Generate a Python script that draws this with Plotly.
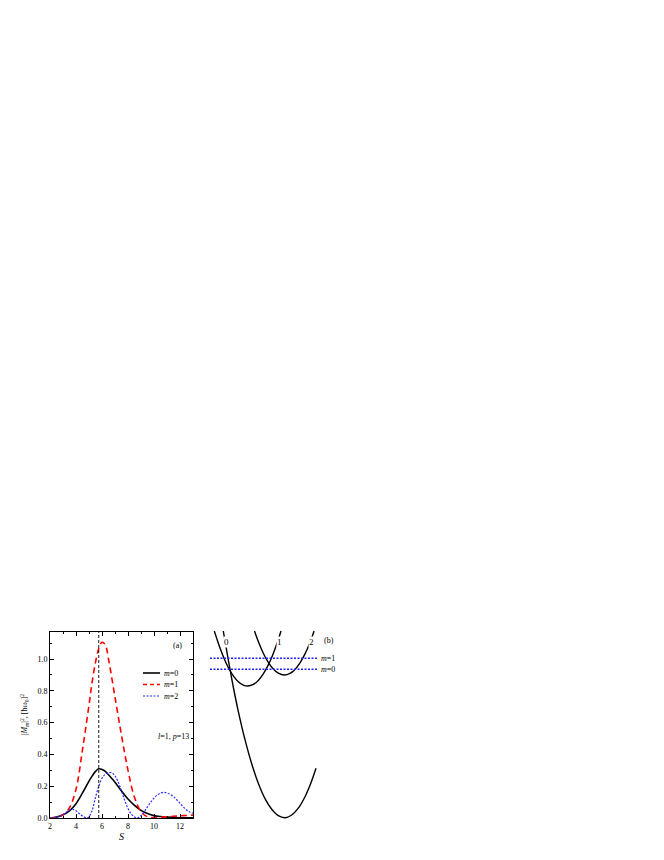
import plotly.graph_objects as go

# ---------------- Panel (a) data ----------------
S_m01 = [2.0, 2.5, 3.0, 3.5, 4.0, 4.5, 5.0, 5.25, 5.5, 5.75, 6.0, 6.25, 6.5,
         7.0, 7.5, 8.0, 8.5, 9.0, 9.5, 10.0, 10.5, 11.0, 11.5, 12.0, 12.5, 13.0]
M_m0 = [0.0, 0.006, 0.02, 0.045, 0.09, 0.158, 0.232, 0.265, 0.293, 0.31, 0.305,
        0.293, 0.272, 0.225, 0.17, 0.12, 0.08, 0.048, 0.028, 0.015, 0.009,
        0.006, 0.004, 0.002, 0.001, 0.001]
M_m1 = [0.0, 0.005, 0.02, 0.065, 0.18, 0.43, 0.71, 0.86, 0.98, 1.065, 1.105,
        1.09, 1.0, 0.76, 0.52, 0.3, 0.13, 0.04, 0.008, 0.003, 0.005, 0.008,
        0.011, 0.014, 0.016, 0.018]
S_m2 = [2.0, 2.5, 3.0, 3.25, 3.5, 3.75, 4.0, 4.25, 4.5, 4.85, 5.0, 5.25, 5.5,
        5.75, 6.0, 6.25, 6.5, 6.75, 7.0, 7.25, 7.5, 7.75, 8.0, 8.25, 8.5, 8.7,
        9.0, 9.25, 9.5, 9.75, 10.0, 10.25, 10.5, 10.75, 11.0, 11.25, 11.5,
        11.75, 12.0, 12.25, 12.5, 12.75, 13.0]
M_m2 = [0.0, 0.004, 0.02, 0.036, 0.05, 0.055, 0.045, 0.028, 0.012, 0.0, 0.008,
        0.05, 0.13, 0.2, 0.25, 0.275, 0.284, 0.285, 0.265, 0.225, 0.17, 0.11,
        0.06, 0.025, 0.006, 0.0, 0.015, 0.04, 0.07, 0.1, 0.125, 0.145, 0.157,
        0.161, 0.158, 0.148, 0.134, 0.115, 0.092, 0.07, 0.05, 0.038, 0.03]
peak_S = 5.75

x_ticks = [2, 4, 6, 8, 10, 12]
y_ticks = [0.0, 0.2, 0.4, 0.6, 0.8, 1.0]
series_names = ["<i>m</i>=0", "<i>m</i>=1", "<i>m</i>=2"]

# ---------------- Panel (b) data ----------------
A_q = [18.3, 20.0, 22.7, 25.0, 28.3, 33.3, 40.0, 46.7, 53.3, 60.0, 66.7, 73.3,
       80.0, 86.7, 93.3, 100.0, 106.0, 111.0]
A_E = [194, 184, 168.5, 155.7, 138, 113.7, 85.3, 61.2, 41.7, 26.3, 15.7, 9.3,
       7.3, 10, 16.8, 28.3, 42.3, 56.7]
B_q = [9.3, 11.7, 15.0, 19.3, 23.3, 28.3, 33.3, 38.3, 42.7, 48.3, 53.3, 58.3,
       63.3, 68.3, 73.3, 76.0]
B_E = [194, 186.6, 176.9, 166, 157.5, 149.2, 143.3, 139.9, 139, 140.6, 144.6,
       151.1, 160.1, 171.6, 185.6, 194]
C_q = [49.5, 53.3, 58.3, 63.3, 68.3, 73.3, 79.3, 85.0, 90.0, 95.0, 100.0, 105.0,
       109.1]
C_E = [194, 183.5, 171.8, 162.7, 156, 151.8, 150, 151.6, 155.6, 162.1, 171.1,
       182.6, 194]
level_q = [5.0, 113.3]
E_m1 = 166.7
E_m0 = 155.7
curve_labels = ["0", "1", "2"]
curve_label_q = [21.0, 74.0, 106.5]
curve_label_E = 183.0

FONT = "Liberation Serif"
W, H = 664, 860

fig = go.Figure()

# Panel (a) curves
fig.add_trace(go.Scatter(x=S_m01, y=M_m0, mode="lines", name=series_names[0],
                         line=dict(color="black", width=1.6, shape="spline"),
                         xaxis="x", yaxis="y"))
fig.add_trace(go.Scatter(x=S_m01, y=M_m1, mode="lines", name=series_names[1],
                         line=dict(color="#ff0000", width=1.6, shape="spline",
                                   dash="6px,4px"),
                         xaxis="x", yaxis="y"))
fig.add_trace(go.Scatter(x=S_m2, y=M_m2, mode="lines", name=series_names[2],
                         line=dict(color="#2b2bff", width=1.2, shape="spline",
                                   dash="2px,1.5px"),
                         xaxis="x", yaxis="y"))
fig.add_trace(go.Scatter(x=[peak_S, peak_S], y=[0, 1.17], mode="lines",
                         line=dict(color="black", width=0.9, dash="3px,2px"),
                         xaxis="x", yaxis="y", showlegend=False))

# Panel (b) curves
for q, E in [(A_q, A_E), (B_q, B_E), (C_q, C_E)]:
    fig.add_trace(go.Scatter(x=q, y=E, mode="lines",
                             line=dict(color="black", width=1.4, shape="spline"),
                             xaxis="x2", yaxis="y2", showlegend=False))
for lvl in [E_m1, E_m0]:
    fig.add_trace(go.Scatter(x=level_q, y=[lvl, lvl], mode="lines",
                             line=dict(color="#1f1fff", width=1.5, dash="2px,1.5px"),
                             xaxis="x2", yaxis="y2", showlegend=False))

axis_common = dict(showline=True, linecolor="black", linewidth=0.8,
                   mirror="allticks", ticks="inside", ticklen=4, tickwidth=0.8,
                   tickcolor="black", showgrid=False, zeroline=False,
                   tickfont=dict(family=FONT, size=8, color="black"))

fig.update_layout(
    width=W, height=H,
    margin=dict(l=0, r=0, t=0, b=0),
    paper_bgcolor="white", plot_bgcolor="white",
    showlegend=False,
    font=dict(family=FONT, size=8, color="black"),
    xaxis=dict(domain=[50 / W, 193 / W], range=[2, 13], tickvals=x_ticks,
               anchor="y", automargin=False,
               minor=dict(ticks="inside", ticklen=2, dtick=1, tick0=2,
                          tickcolor="black", showgrid=False),
               **axis_common),
    yaxis=dict(domain=[(H - 818) / H, (H - 632) / H], range=[0, 1.17],
               tickvals=y_ticks, tickformat=".1f", anchor="x", automargin=False,
               minor=dict(ticks="inside", ticklen=2, dtick=0.1, tick0=0,
                          tickcolor="black", showgrid=False),
               **axis_common),
    xaxis2=dict(domain=[205 / W, 335 / W], range=[0, 130], visible=False,
                anchor="y2"),
    yaxis2=dict(domain=[35 / H, 235 / H], range=[0, 200], visible=False,
                anchor="x2"),
)


def px(x, y, text, size=8, angle=0, xanchor="center", **kw):
    return dict(x=x / W, y=(H - y) / H, xref="paper", yref="paper", text=text,
                textangle=angle, showarrow=False, xanchor=xanchor,
                yanchor="middle", font=dict(family=FONT, size=size, color="black"),
                **kw)


ann = []
ann.append(px(24, 715, "|<i>M</i><sub><i>m</i></sub>|<sup>2</sup>, [ħω<sub>0</sub>]<sup>2</sup>",
              size=8, angle=-90))
ann.append(px(121.5, 836, "<i>S</i>", size=10))
ann.append(px(177, 645, "(a)", size=8))
ann.append(px(173, 736, "<i>l</i>=1, <i>p</i>=13", size=8))
# manual legend
leg_y = [673, 684.5, 696]
leg_styles = [dict(color="black", width=1.6, dash="solid"),
              dict(color="#ff0000", width=1.6, dash="4px,3px"),
              dict(color="#2b2bff", width=1.2, dash="2px,1.5px")]
shapes = []
for name, yy, st in zip(series_names, leg_y, leg_styles):
    shapes.append(dict(type="line", xref="paper", yref="paper",
                       x0=143 / W, x1=160 / W, y0=(H - yy) / H, y1=(H - yy) / H,
                       line=st))
    ann.append(px(161.5, yy, name, size=8, xanchor="left"))
# panel (b) texts
for lab, q in zip(curve_labels, curve_label_q):
    ann.append(dict(x=q, y=curve_label_E, xref="x2", yref="y2", text=lab,
                    showarrow=False, bgcolor="white", borderpad=0,
                    xanchor="center", yanchor="middle",
                    font=dict(family=FONT, size=9, color="black")))
ann.append(dict(x=124, y=185, xref="x2", yref="y2", text="(b)",
                xanchor="center", yanchor="middle",
                showarrow=False, font=dict(family=FONT, size=8, color="black")))
ann.append(dict(x=113.5, y=E_m1, xref="x2", yref="y2", text="<i>m</i>=1",
                xanchor="left", yanchor="middle", showarrow=False,
                font=dict(family=FONT, size=8, color="black")))
ann.append(dict(x=113.5, y=E_m0, xref="x2", yref="y2", text="<i>m</i>=0",
                xanchor="left", yanchor="middle", showarrow=False,
                font=dict(family=FONT, size=8, color="black")))

fig.update_layout(annotations=ann, shapes=shapes)
fig.write_html("out.html", config={"displayModeBar": False},
               post_script="document.body.style.margin='0';document.body.style.padding='0';")
